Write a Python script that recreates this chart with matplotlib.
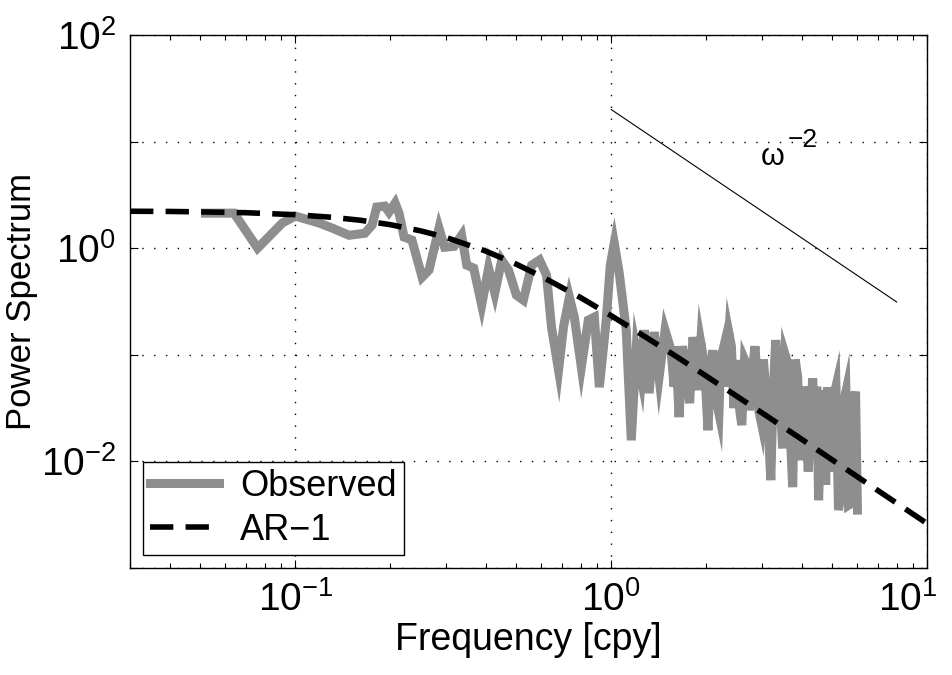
import matplotlib
matplotlib.use("Agg")
import matplotlib.pyplot as plt
from matplotlib.ticker import FixedLocator, NullLocator, LogLocator, NullFormatter
from matplotlib.transforms import ScaledTranslation
import numpy as np

# ---------------- data ----------------
obs_freq = [0.052, 0.064, 0.076, 0.091, 0.100, 0.119, 0.131, 0.148, 0.166, 0.175,
            0.181, 0.192, 0.198, 0.207, 0.213, 0.221, 0.234, 0.252, 0.265, 0.285,
            0.297, 0.318, 0.336, 0.349, 0.367, 0.389, 0.409, 0.428, 0.450, 0.473,
            0.501, 0.527, 0.560, 0.593, 0.624, 0.647, 0.681, 0.706, 0.737, 0.764,
            0.804, 0.846, 0.884, 0.917, 0.964, 0.993, 1.022, 1.060, 1.115,
            1.157, 1.199, 1.243, 1.271, 1.318, 1.367, 1.417, 1.480, 1.546, 1.580,
            1.600, 1.639, 1.680, 1.724, 1.770, 1.814, 1.850, 1.881, 1.920, 1.951,
            1.990, 2.023, 2.060, 2.097, 2.140, 2.191, 2.220, 2.256, 2.300, 2.357,
            2.400, 2.444, 2.480, 2.515, 2.550, 2.589, 2.640, 2.686, 2.730, 2.805,
            2.850, 2.887, 2.930, 2.973, 3.030, 3.083, 3.140, 3.198, 3.250, 3.315,
            3.400, 3.488, 3.550, 3.617, 3.680, 3.751, 3.820, 3.890, 3.930, 3.975,
            4.050, 4.122, 4.200, 4.275, 4.340, 4.401, 4.470, 4.530, 4.610, 4.698,
            4.770, 4.836, 4.940, 5.051, 5.140, 5.238, 5.330, 5.432, 5.530, 5.634,
            5.740, 5.843, 5.930, 6.013]
obs_power = [2.13, 2.13, 1.00, 1.72, 2.00, 1.72, 1.54, 1.32, 1.38, 1.64,
             2.43, 2.48, 2.18, 2.65, 2.13, 1.27, 1.19, 0.534, 0.622, 1.54,
             1.02, 1.04, 1.32, 0.692, 0.649, 0.292, 0.649, 0.378, 0.772, 0.622,
             0.362, 0.325, 0.692, 0.772, 0.558, 0.181, 0.0715, 0.181, 0.347, 0.225,
             0.0763, 0.211, 0.225, 0.0495, 0.211, 0.692, 1.11, 0.582, 0.170,
             0.0157, 0.110, 0.0615, 0.170, 0.0435, 0.163, 0.0615, 0.170, 0.110, 0.050,
             0.120, 0.0259, 0.120, 0.0747, 0.035, 0.146, 0.090, 0.0464, 0.130, 0.0989,
             0.050, 0.0195, 0.070, 0.110, 0.040, 0.0282, 0.090, 0.110, 0.050, 0.159,
             0.120, 0.0315, 0.060, 0.0888, 0.030, 0.0218, 0.090, 0.0797, 0.030, 0.0763,
             0.120, 0.0670, 0.030, 0.0243, 0.090, 0.0464, 0.020, 0.00663, 0.040, 0.137,
             0.050, 0.0132, 0.100, 0.0832, 0.020, 0.00570, 0.090, 0.0615, 0.020, 0.0102,
             0.050, 0.0374, 0.008, 0.0243, 0.060, 0.0157, 0.050, 0.00430, 0.020, 0.0464,
             0.006, 0.0495, 0.008, 0.0399, 0.050, 0.00347, 0.005, 0.0350, 0.045, 0.00386,
             0.004, 0.0350, 0.045, 0.00347]

ar1_freq = [0.03, 0.04, 0.05, 0.07, 0.1, 0.13, 0.16, 0.2, 0.25, 0.3, 0.4, 0.5, 0.6,
            0.8, 1.0, 1.3, 1.6, 2.0, 2.5, 3.0, 4.0, 5.0, 6.5, 8.0, 10.0]
ar1_power = [2.22, 2.21, 2.19, 2.15, 2.06, 1.95, 1.83, 1.66, 1.45, 1.26, 0.94, 0.708,
             0.544, 0.343, 0.232, 0.143, 0.0968, 0.0628, 0.0406, 0.0284, 0.0161,
             0.0103, 0.00611, 0.00404, 0.00259]

slope_freq = [1.0, 8.0]
slope_power = [20.0, 0.3125]

x_ticks = [0.1, 1.0, 10.0]
x_ticklabels = [r'$\mathdefault{10^{-1}}$', r'$\mathdefault{10^{0}}$', r'$\mathdefault{10^{1}}$']
y_ticks = [1e-3, 1e-2, 1e-1, 1e0, 1e1, 1e2]
y_ticklabels = ['', r'$\mathdefault{10^{-2}}$', '', r'$\mathdefault{10^{0}}$', '', r'$\mathdefault{10^{2}}$']

assert len(obs_freq) == len(obs_power)
assert len(ar1_freq) == len(ar1_power)

# ---------------- figure ----------------
plt.rcParams['font.family'] = ['Liberation Sans', 'DejaVu Sans']
plt.rcParams['mathtext.fontset'] = 'custom'
plt.rcParams['mathtext.rm'] = 'Liberation Sans'
plt.rcParams['mathtext.it'] = 'Liberation Sans:italic'
plt.rcParams['axes.unicode_minus'] = True

fig = plt.figure(figsize=(9.52, 6.75), dpi=100)
ax = fig.add_axes([0.1366, 0.159, 0.8374, 0.789])

ax.set_xscale('log')
ax.set_yscale('log')

ax.plot(obs_freq, obs_power, color='#8e8e8e', lw=6.5, solid_joinstyle='miter',
        label='Observed', zorder=3)
ax.plot(ar1_freq, ar1_power, color='black', lw=4.0, linestyle=(0, (4.2, 2.2)),
        dash_capstyle='butt', label='AR\u22121', zorder=4)
ax.plot(slope_freq, slope_power, color='black', lw=0.8, zorder=4)
ax.text(2.97, 6.0, '\u03c9', fontsize=22, ha='left', va='baseline')
ax.text(3.62, 8.9, '\u22122', fontsize=19, ha='left', va='baseline')

ax.set_xlim(0.03, 10)
ax.set_ylim(1e-3, 1e2)

ax.xaxis.set_major_locator(FixedLocator(x_ticks))
ax.set_xticklabels(x_ticklabels)
ax.xaxis.set_minor_locator(LogLocator(base=10, subs=np.arange(2, 10)))
ax.xaxis.set_minor_formatter(NullFormatter())
ax.yaxis.set_major_locator(FixedLocator(y_ticks))
ax.set_yticklabels(y_ticklabels)
ax.yaxis.set_minor_locator(NullLocator())

ax.tick_params(which='both', direction='in', top=True, right=True)
ax.tick_params(which='major', length=6, width=0.8, labelsize=28, pad=10)
ax.tick_params(which='minor', length=3.5, width=0.8)

# keep the last x tick label inside the figure, as in the reference
last = ax.get_xticklabels()[-1]
last.set_transform(last.get_transform() + ScaledTranslation(-14 / 72, 0, fig.dpi_scale_trans))

ax.grid(True, which='major', color='black', lw=1.0, linestyle=(0, (1.0, 7.5)))
for s in ax.spines.values():
    s.set_linewidth(1.0)

ax.set_xlabel('Frequency [cpy]', fontsize=27, labelpad=2)
ax.set_ylabel('Power Spectrum', fontsize=25, labelpad=2)

leg = ax.legend(loc='lower left', fontsize=26, frameon=True, fancybox=False,
                edgecolor='black', framealpha=1.0, borderaxespad=0.35,
                handlelength=1.9, handletextpad=0.6, borderpad=0.2, labelspacing=0.25)
leg.get_frame().set_linewidth(1.0)

fig.savefig('out.png', dpi=100)
